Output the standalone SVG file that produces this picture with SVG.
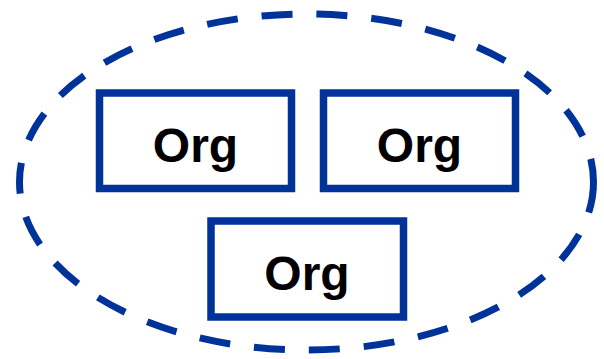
<svg xmlns="http://www.w3.org/2000/svg" width="604" height="359" viewBox="0 0 604 359">
<style>
.box{fill:#fff;stroke:#003399;stroke-width:7.5}
.lbl{font-family:"Liberation Sans",Arial,sans-serif;font-weight:bold;font-size:48px;fill:#000;text-anchor:middle}
.grp{fill:none;stroke:#003399;stroke-width:7;stroke-dasharray:31 24}
</style>
<rect width="604" height="359" fill="#fff"/>
<g id="group">
<ellipse class="grp" cx="306.5" cy="182" rx="287" ry="168"/>
</g>
<g id="org1">
<rect class="box" x="99.5" y="93" width="192" height="95.5"/>
<text class="lbl" x="195.5" y="162">Org</text>
</g>
<g id="org2">
<rect class="box" x="323.5" y="93" width="192" height="95.5"/>
<text class="lbl" x="419.5" y="162">Org</text>
</g>
<g id="org3">
<rect class="box" x="211" y="221" width="192.5" height="96"/>
<text class="lbl" x="307" y="290">Org</text>
</g>
<g id="connectors"></g>
</svg>
